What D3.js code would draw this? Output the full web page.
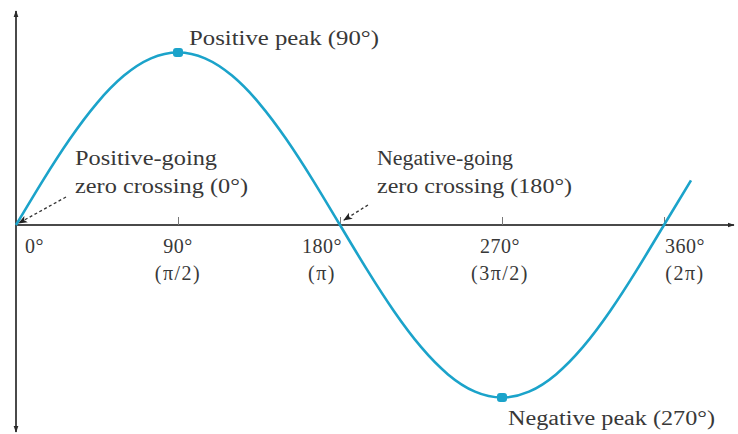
<!DOCTYPE html>
<html>
<head>
<meta charset="utf-8">
<script src="https://cdn.jsdelivr.net/npm/d3@7"></script>
<style>
  html, body { margin: 0; padding: 0; background: #fff; }
  svg { display: block; }
  text { font-family: "Liberation Serif", "DejaVu Serif", serif; fill: #383838; }
</style>
</head>
<body>
<svg id="chart" width="738" height="434"></svg>
<script>
// One cycle of a sine wave, sampled every 15 degrees (a little past 360°)
const angles = [0, 15, 30, 45, 60, 75, 90, 105, 120, 135, 150, 165, 180,
                195, 210, 225, 240, 255, 270, 285, 300, 315, 330, 345, 360, 375];
const amplitudes = [0, 0.259, 0.5, 0.707, 0.866, 0.966, 1, 0.966, 0.866, 0.707, 0.5, 0.259, 0,
                    -0.259, -0.5, -0.707, -0.866, -0.966, -1, -0.966, -0.866, -0.707, -0.5, -0.259, 0, 0.259];

// Axis tick positions and their two-line labels
const tickAngles = [0, 90, 180, 270, 360];
const tickDegreeLabels = ["0°", "90°", "180°", "270°", "360°"];
const tickRadianLabels = ["", "(π/2)", "(π)", "(3π/2)", "(2π)"];

// Highlighted peaks
const peakAngles = [90, 270];
const peakValues = [1, -1];
const peakLabels = ["Positive peak (90°)", "Negative peak (270°)"];

// Zero-crossing callouts
const crossingAngles = [0, 180];
const crossingLines = [["Positive-going", "zero crossing (0°)"], ["Negative-going", "zero crossing (180°)"]];

const svg = d3.select("#chart");
const x = d3.scaleLinear().domain([0, 360]).range([16, 664]);
const y = d3.scaleLinear().domain([-1, 1]).range([397.5, 52.5]);

const axisColor = "#4a4a4a";
const waveColor = "#1ba3ca";
const fontSize = 20;

const defs = svg.append("defs");
defs.append("marker")
  .attr("id", "axisHead").attr("viewBox", "0 0 10 10")
  .attr("refX", 9).attr("refY", 5)
  .attr("markerWidth", 7).attr("markerHeight", 7)
  .attr("markerUnits", "userSpaceOnUse")
  .attr("orient", "auto")
  .append("path").attr("d", "M0,1.5 L10,5 L0,8.5 Z").attr("fill", "#2a2a2a");
defs.append("marker")
  .attr("id", "calloutHead").attr("viewBox", "0 0 10 10")
  .attr("refX", 9).attr("refY", 5)
  .attr("markerWidth", 9).attr("markerHeight", 9)
  .attr("markerUnits", "userSpaceOnUse")
  .attr("orient", "auto")
  .append("path").attr("d", "M0,1 L10,5 L0,9 L2.5,5 Z").attr("fill", "#222");

// Axes
const y0 = y(0);
svg.append("line")
  .attr("x1", x(0)).attr("y1", y0).attr("x2", 734).attr("y2", y0)
  .attr("stroke", axisColor).attr("stroke-width", 2)
  .attr("marker-end", "url(#axisHead)");
svg.append("line")
  .attr("x1", x(0)).attr("y1", y0).attr("x2", x(0)).attr("y2", 11)
  .attr("stroke", axisColor).attr("stroke-width", 2)
  .attr("marker-end", "url(#axisHead)");
svg.append("line")
  .attr("x1", x(0)).attr("y1", y0).attr("x2", x(0)).attr("y2", 432)
  .attr("stroke", axisColor).attr("stroke-width", 2)
  .attr("marker-end", "url(#axisHead)");

// Tick marks above the horizontal axis
const tickAxis = d3.axisTop(x).tickValues(tickAngles.slice(1)).tickSize(8).tickFormat("");
const tickG = svg.append("g").attr("transform", `translate(0,${y0})`).call(tickAxis);
tickG.select(".domain").remove();
tickG.selectAll(".tick line").attr("stroke", "#777").attr("stroke-width", 1);

// Tick labels (shifted off the curve where it crosses the axis)
const labelShift = [9, 0, -18, -2, 21];
tickAngles.forEach((a, i) => {
  const cx = x(a) + labelShift[i];
  const anchor = i === 0 ? "start" : "middle";
  svg.append("text").attr("x", cx).attr("y", y0 + 28)
    .attr("text-anchor", anchor).attr("font-size", fontSize)
    .attr("letter-spacing", 0.5).text(tickDegreeLabels[i]);
  if (tickRadianLabels[i]) {
    svg.append("text").attr("x", cx).attr("y", y0 + 55)
      .attr("text-anchor", anchor).attr("font-size", fontSize)
      .attr("letter-spacing", 1.5).text(tickRadianLabels[i]);
  }
});

// Sine wave
const line = d3.line()
  .x((d, i) => x(angles[i]))
  .y(d => y(d))
  .curve(d3.curveNatural);
svg.append("path")
  .datum(amplitudes)
  .attr("d", line)
  .attr("fill", "none")
  .attr("stroke", waveColor)
  .attr("stroke-width", 2.6);

// Peak markers and labels
peakAngles.forEach((a, i) => {
  svg.append("rect")
    .attr("x", x(a) - 5).attr("y", y(peakValues[i]) - 4.5)
    .attr("width", 10).attr("height", 9).attr("rx", 3)
    .attr("fill", waveColor);
});
svg.append("text").attr("x", 189).attr("y", 45)
  .attr("font-size", fontSize).attr("textLength", 190).attr("lengthAdjust", "spacingAndGlyphs")
  .text(peakLabels[0]);
svg.append("text").attr("x", 508).attr("y", 425)
  .attr("font-size", fontSize).attr("textLength", 207).attr("lengthAdjust", "spacingAndGlyphs")
  .text(peakLabels[1]);

// Zero-crossing callouts with dashed arrows
const calloutX = [75, 377];
const calloutWidths = [[142, 173], [136, 195]];
const arrowFrom = [[66, 197], [368, 205]];
const arrowTo = [[19, 223], [344, 220]];
crossingAngles.forEach((a, i) => {
  crossingLines[i].forEach((s, j) => {
    svg.append("text")
      .attr("x", calloutX[i]).attr("y", 165 + j * 28)
      .attr("font-size", fontSize)
      .attr("textLength", calloutWidths[i][j]).attr("lengthAdjust", "spacingAndGlyphs")
      .text(s);
  });
  svg.append("line")
    .attr("x1", arrowFrom[i][0]).attr("y1", arrowFrom[i][1])
    .attr("x2", arrowTo[i][0]).attr("y2", arrowTo[i][1])
    .attr("stroke", "#333").attr("stroke-width", 1.3)
    .attr("stroke-dasharray", "3,2.5")
    .attr("marker-end", "url(#calloutHead)");
});
</script>
</body>
</html>
